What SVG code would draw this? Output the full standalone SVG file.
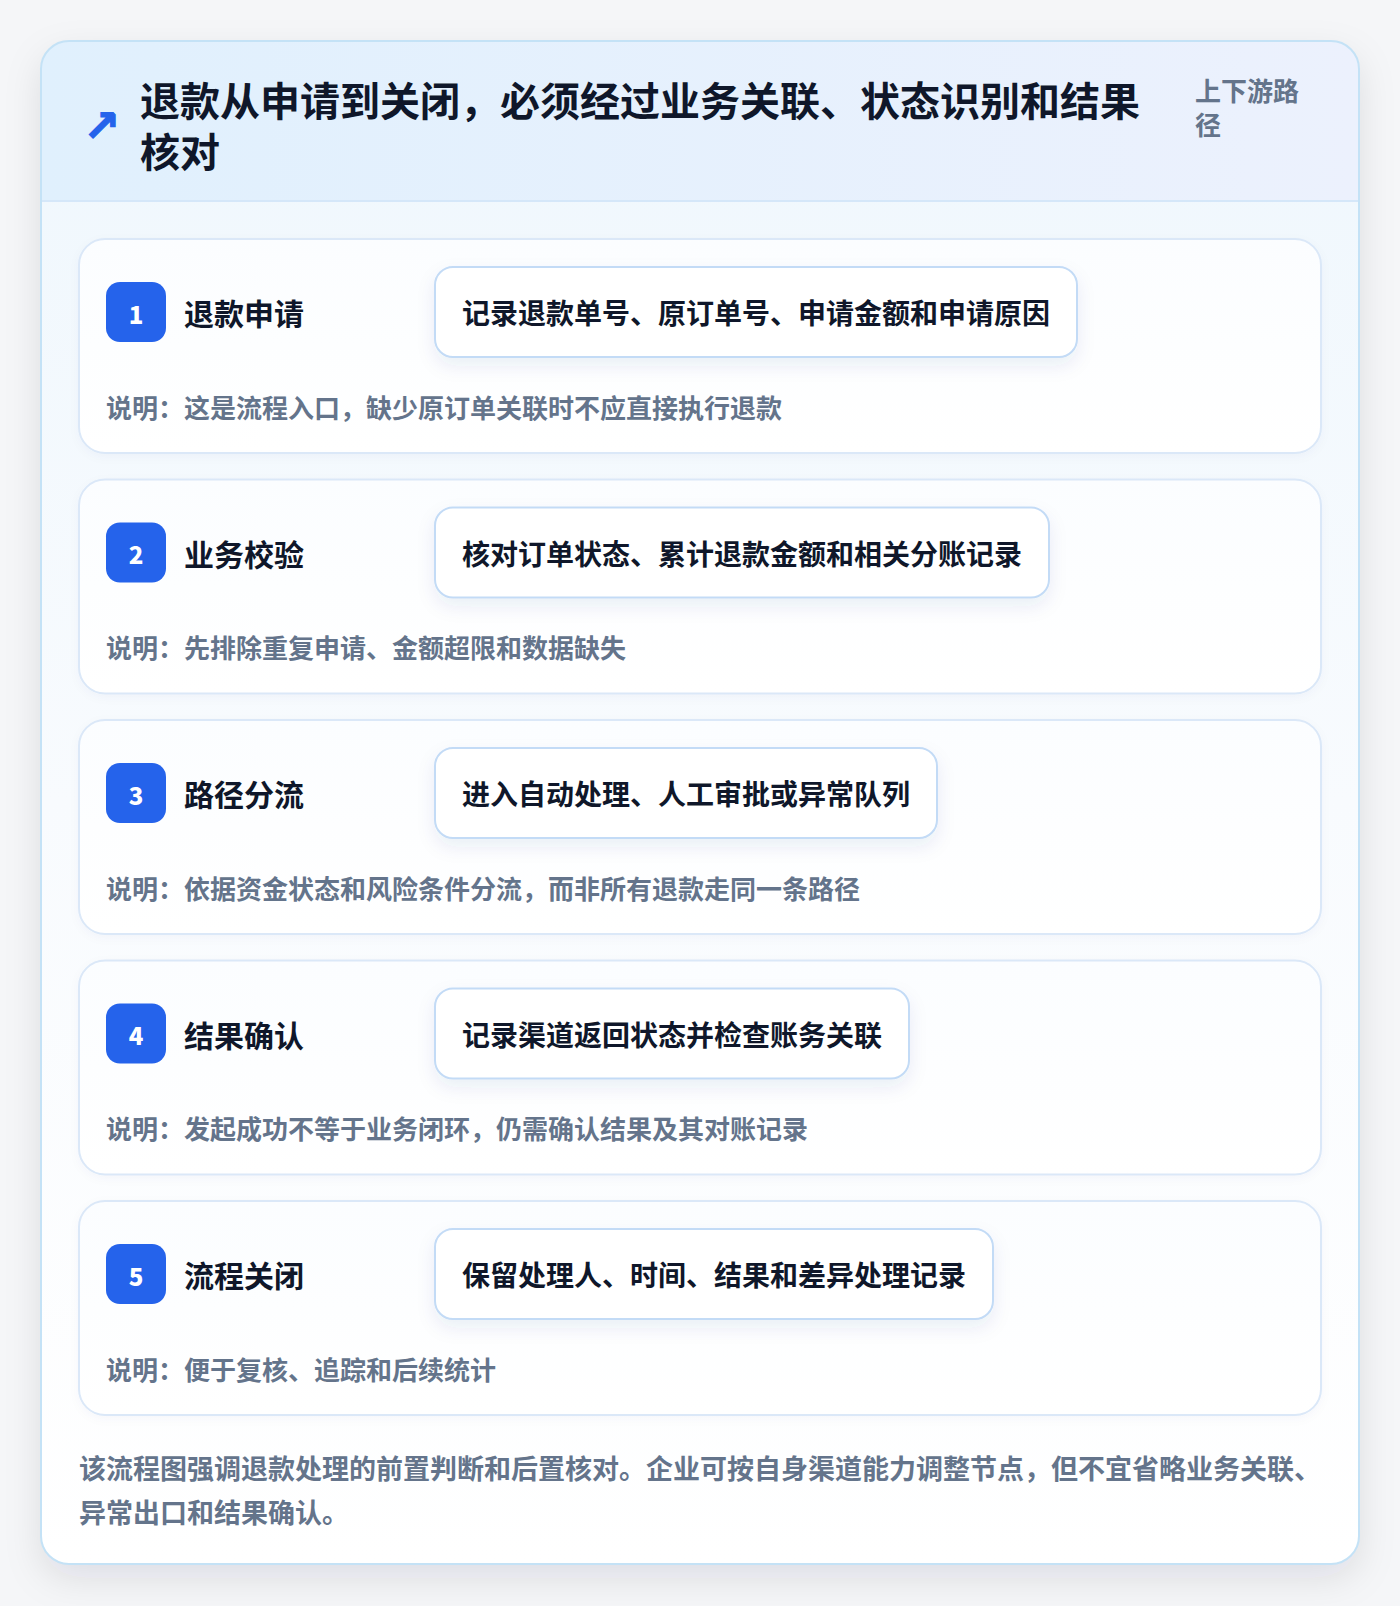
<svg xmlns="http://www.w3.org/2000/svg" width="1400" height="1606" viewBox="0 0 1400 1606">
<defs>
<linearGradient id="hdrGrad" x1="0" y1="0" x2="1" y2="0">
<stop offset="0" stop-color="#e0f0fd"/>
<stop offset="1" stop-color="#ecf1fd"/>
</linearGradient>
<linearGradient id="bodyGrad" x1="0" y1="0" x2="0" y2="1">
<stop offset="0" stop-color="#eff7fd"/>
<stop offset="0.5" stop-color="#f8fbfe"/>
<stop offset="1" stop-color="#ffffff"/>
</linearGradient>
<linearGradient id="cardGrad" x1="0" y1="0" x2="0" y2="1">
<stop offset="0" stop-color="#fbfdff"/>
<stop offset="1" stop-color="#ffffff"/>
</linearGradient>
<filter id="outerShadow" x="-10%" y="-10%" width="120%" height="120%">
<feDropShadow dx="0" dy="14" stdDeviation="18" flood-color="#0f172a" flood-opacity="0.10"/>
</filter>
<filter id="boxShadow" x="-10%" y="-30%" width="120%" height="170%">
<feDropShadow dx="0" dy="8" stdDeviation="9" flood-color="#1e3a8a" flood-opacity="0.08"/>
</filter>
<filter id="cardShadow" x="-5%" y="-10%" width="110%" height="130%">
<feDropShadow dx="0" dy="3" stdDeviation="5" flood-color="#1e3a8a" flood-opacity="0.03"/>
</filter>
<clipPath id="outerClip"><rect x="41" y="41" width="1318" height="1523" rx="28"/></clipPath>
</defs>
<style>
text { font-family: "Noto Sans CJK SC", "Noto Sans", sans-serif; font-weight: 700; }
.icon { font-family: "DejaVu Sans", sans-serif; font-size: 44px; fill: #2563eb; stroke: #2563eb; stroke-width: 1.2; }
.title { font-size: 40px; fill: #0f172a; }
.sub { font-size: 26px; fill: #64748b; }
.card { fill: url(#cardGrad); stroke: #dbe8f8; stroke-width: 2; }
.badge { fill: #2563eb; }
.num { font-size: 24px; fill: #ffffff; text-anchor: middle; font-weight: 900; }
.stitle { font-size: 30px; fill: #0f172a; }
.box { fill: #ffffff; stroke: #c3dbf6; stroke-width: 2; }
.detail { font-size: 28px; fill: #0f172a; }
.note { font-size: 26px; fill: #64748b; }
.foot { font-size: 27px; fill: #64748b; }
</style>
<rect x="0" y="0" width="1400" height="1606" fill="#f5f6f8"/>
<g id="frame">
<rect x="41" y="41" width="1318" height="1523" rx="28" fill="url(#bodyGrad)" filter="url(#outerShadow)"/>
<g clip-path="url(#outerClip)">
<rect x="41" y="41" width="1318" height="160" fill="url(#hdrGrad)"/>
<line x1="41" y1="201" x2="1359" y2="201" stroke="#d5e7f9" stroke-width="2"/>
</g>
<rect x="41" y="41" width="1318" height="1523" rx="28" fill="none" stroke="#c4e2f6" stroke-width="2"/>
</g>
<g id="header">
<text class="icon" x="102" y="125" text-anchor="middle" dominant-baseline="central">↗</text>
<text class="title" x="140" y="99" dominant-baseline="central">退款从申请到关闭，必须经过业务关联、状态识别和结果</text>
<text class="title" x="140" y="150" dominant-baseline="central">核对</text>
<text class="sub" x="1195" y="89.5" dominant-baseline="central">上下游路</text>
<text class="sub" x="1195" y="123.5" dominant-baseline="central">径</text>
</g>
<g id="connectors"/>
<g id="step1" transform="translate(0,239)">
<rect class="card" x="79" y="0" width="1242" height="214" rx="26" filter="url(#cardShadow)"/>
<rect class="badge" x="106" y="43" width="60" height="60" rx="14"/>
<text class="num" x="136" y="74" dominant-baseline="central">1</text>
<text class="stitle" x="184" y="73" dominant-baseline="central">退款申请</text>
<rect class="box" x="435" y="28" width="642" height="90" rx="18" filter="url(#boxShadow)"/>
<text class="detail" x="462" y="73" dominant-baseline="central">记录退款单号、原订单号、申请金额和申请原因</text>
<text class="note" x="106" y="167" dominant-baseline="central">说明：这是流程入口，缺少原订单关联时不应直接执行退款</text>
</g>
<g id="step2" transform="translate(0,479.5)">
<rect class="card" x="79" y="0" width="1242" height="214" rx="26" filter="url(#cardShadow)"/>
<rect class="badge" x="106" y="43" width="60" height="60" rx="14"/>
<text class="num" x="136" y="74" dominant-baseline="central">2</text>
<text class="stitle" x="184" y="73" dominant-baseline="central">业务校验</text>
<rect class="box" x="435" y="28" width="614" height="90" rx="18" filter="url(#boxShadow)"/>
<text class="detail" x="462" y="73" dominant-baseline="central">核对订单状态、累计退款金额和相关分账记录</text>
<text class="note" x="106" y="167" dominant-baseline="central">说明：先排除重复申请、金额超限和数据缺失</text>
</g>
<g id="step3" transform="translate(0,720)">
<rect class="card" x="79" y="0" width="1242" height="214" rx="26" filter="url(#cardShadow)"/>
<rect class="badge" x="106" y="43" width="60" height="60" rx="14"/>
<text class="num" x="136" y="74" dominant-baseline="central">3</text>
<text class="stitle" x="184" y="73" dominant-baseline="central">路径分流</text>
<rect class="box" x="435" y="28" width="502" height="90" rx="18" filter="url(#boxShadow)"/>
<text class="detail" x="462" y="73" dominant-baseline="central">进入自动处理、人工审批或异常队列</text>
<text class="note" x="106" y="167" dominant-baseline="central">说明：依据资金状态和风险条件分流，而非所有退款走同一条路径</text>
</g>
<g id="step4" transform="translate(0,960.5)">
<rect class="card" x="79" y="0" width="1242" height="214" rx="26" filter="url(#cardShadow)"/>
<rect class="badge" x="106" y="43" width="60" height="60" rx="14"/>
<text class="num" x="136" y="74" dominant-baseline="central">4</text>
<text class="stitle" x="184" y="73" dominant-baseline="central">结果确认</text>
<rect class="box" x="435" y="28" width="474" height="90" rx="18" filter="url(#boxShadow)"/>
<text class="detail" x="462" y="73" dominant-baseline="central">记录渠道返回状态并检查账务关联</text>
<text class="note" x="106" y="167" dominant-baseline="central">说明：发起成功不等于业务闭环，仍需确认结果及其对账记录</text>
</g>
<g id="step5" transform="translate(0,1201)">
<rect class="card" x="79" y="0" width="1242" height="214" rx="26" filter="url(#cardShadow)"/>
<rect class="badge" x="106" y="43" width="60" height="60" rx="14"/>
<text class="num" x="136" y="74" dominant-baseline="central">5</text>
<text class="stitle" x="184" y="73" dominant-baseline="central">流程关闭</text>
<rect class="box" x="435" y="28" width="558" height="90" rx="18" filter="url(#boxShadow)"/>
<text class="detail" x="462" y="73" dominant-baseline="central">保留处理人、时间、结果和差异处理记录</text>
<text class="note" x="106" y="167" dominant-baseline="central">说明：便于复核、追踪和后续统计</text>
</g>
<g id="footer">
<text class="foot" x="79" y="1467.5" dominant-baseline="central">该流程图强调退款处理的前置判断和后置核对。企业可按自身渠道能力调整节点，但不宜省略业务关联、</text>
<text class="foot" x="79" y="1511.5" dominant-baseline="central">异常出口和结果确认。</text>
</g>
</svg>
